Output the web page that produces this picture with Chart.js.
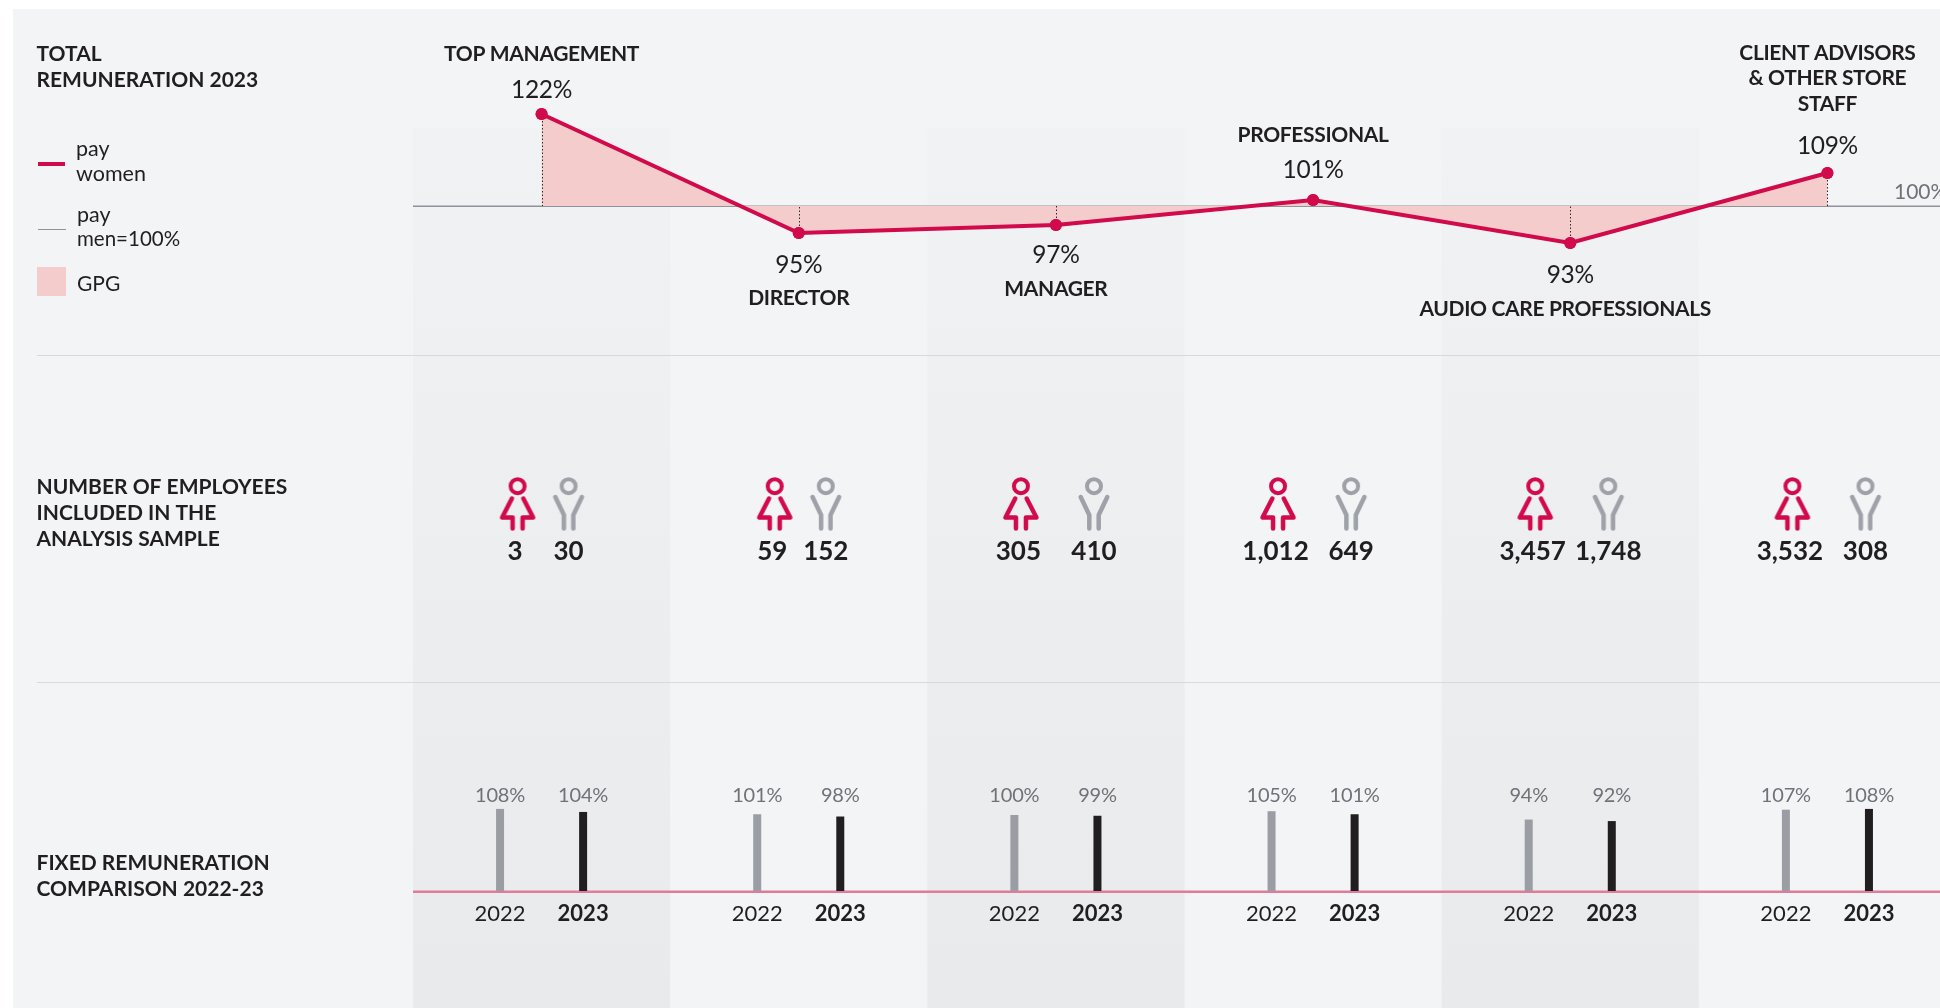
<!DOCTYPE html>
<html><head><meta charset="utf-8">
<style>html,body{margin:0;padding:0;background:#fff;overflow:hidden;width:1940px;height:1008px}canvas{position:absolute;left:0;top:0}</style>
<script src="https://cdn.jsdelivr.net/npm/chart.js@4/dist/chart.umd.js"></script>
</head><body><canvas id="c" width="1956" height="1008"></canvas>
<script>
// ---- data ----
const categories = ['TOP MANAGEMENT','DIRECTOR','MANAGER','PROFESSIONAL','AUDIO CARE PROFESSIONALS','CLIENT ADVISORS & OTHER STORE STAFF'];
const payWomen2023 = [122,95,97,101,93,109];
const womenCounts = [3,59,305,1012,3457,3532];
const menCounts = [30,152,410,649,1748,308];
const fixed2022 = [108,101,100,105,94,107];
const fixed2023 = [104,98,99,101,92,108];
const years = ['2022','2023'];
const payMen = 100;

// ---- style / layout ----
const RED='#d10a4b', GREY='#9ea1a7', INK='#211e1f', MUTE='#6f7278', AREA='#f4cccb';
const FF='Lato, sans-serif';
const nameLines = [['TOP MANAGEMENT'],['DIRECTOR'],['MANAGER'],['PROFESSIONAL'],['AUDIO CARE PROFESSIONALS'],['CLIENT ADVISORS','& OTHER STORE','STAFF']];
const nameY = [[53],[297],[288],[134],[308],[52,77,103]];
const nameDx = [0,0,0,0,-5,0];
const pctDy = [-25,30.5,28.5,-31,31,-28];
const iconGap = [25.5,25.5,36.5,36.5,36.5,36.5];

// The reference's line panel is not drawn to a uniform scale, so its axis is read as stops (value → pixel).
const lineStops = [[93,243],[95,233],[97,225],[100,206],[101,200],[109,173],[122,114]];
class StopScale extends Chart.LinearScale {
  getPixelForValue(v){
    const s=lineStops;
    let i=0; while(i<s.length-2 && v>s[i+1][0]) i++;
    return s[i][1]+(v-s[i][0])*(s[i+1][1]-s[i][1])/(s[i+1][0]-s[i][0]);
  }
}
StopScale.id='stops'; StopScale.defaults=Chart.LinearScale.defaults;
Chart.register(StopScale);

function icon(kind,color){
  const c=document.createElement('canvas'); c.width=44; c.height=60;
  const g=c.getContext('2d'); g.translate(22,3.5);
  g.strokeStyle=color; g.lineWidth=4; g.lineCap='round'; g.lineJoin='round';
  g.beginPath(); g.arc(0,8.7,7,0,Math.PI*2); g.stroke();
  g.lineWidth=4.5;
  [-1,1].forEach(d=>{ g.beginPath();
    if(kind==='w'){ g.moveTo(d*5.7,21); g.lineTo(d*15.5,40); g.lineTo(d*5,40); g.lineTo(d*5,51);}
    else { g.moveTo(d*13.3,19.5); g.lineTo(d*4.7,37.5); g.lineTo(d*4.7,51);}
    g.stroke(); });
  return c;
}
const byCategory = vals => vals.map((v,i)=>({x:i,y:v}));
const iconPoints = sign => categories.map((_,i)=>({x:i+(sign*iconGap[i]+1.5)/257,y:0}));

function T(ctx,s,x,y,font,color,align,ls){
  ctx.font=font; ctx.fillStyle=color; ctx.textAlign=align||'center'; ctx.textBaseline='middle';
  ctx.letterSpacing=(ls||0)+'px'; ctx.fillText(s,x,y+1.5); ctx.letterSpacing='0px';
}
const BOLD='700 21px '+FF, LIGHT='400 ';

const paint = {
  id:'paint',
  beforeDatasetsDraw(chart){
    const {ctx,scales:{x,yLine,yBar},chartArea:a}=chart;
    const half=(x.getPixelForValue(1)-x.getPixelForValue(0))/2;
    ctx.save();
    ctx.fillStyle='#f3f4f6'; ctx.fillRect(13,9,1943,999);
    const grad=ctx.createLinearGradient(0,128,0,1008);
    grad.addColorStop(0,'#f1f2f4'); grad.addColorStop(1,'#e9eaec');
    ctx.fillStyle=grad;
    [0,2,4].forEach(i=>ctx.fillRect(x.getPixelForValue(i)-half,128,half*2,880));
    ctx.fillStyle='#d8d9dc';
    ctx.fillRect(37,355,1919,1); ctx.fillRect(37,682,1919,1);
    const b=yLine.getPixelForValue(payMen);
    ctx.fillStyle='#8f9298'; ctx.fillRect(a.left,b-0.5,a.right-a.left,1.5);
    ctx.fillStyle='#e07c9a'; ctx.fillRect(a.left,yBar.getPixelForValue(0)-0.5,a.right-a.left,2.5);
    ctx.fillStyle=RED; ctx.fillRect(38,162,27,4);
    ctx.fillStyle='#8f9298'; ctx.fillRect(38,229,28,1);
    ctx.fillStyle=AREA; ctx.fillRect(37,267,29,29);
    ctx.restore();
  },
  afterDatasetsDraw(chart){
    const {ctx,scales:{yLine}}=chart;
    ctx.save();
    const line=chart.getDatasetMeta(2).data;
    const b=yLine.getPixelForValue(payMen);
    ctx.strokeStyle='#2b2b2b'; ctx.lineWidth=1; ctx.setLineDash([1.5,2]);
    line.forEach(p=>{ctx.beginPath();ctx.moveTo(Math.round(p.x)+.5,p.y);ctx.lineTo(Math.round(p.x)+.5,b);ctx.stroke();});
    ctx.setLineDash([]);
    ctx.fillStyle=RED; line.forEach(p=>{ctx.beginPath();ctx.arc(p.x,p.y,6,0,Math.PI*2);ctx.fill();});
    [['TOTAL',53],['REMUNERATION 2023',78.5],['NUMBER OF EMPLOYEES',486],['INCLUDED IN THE',511.5],['ANALYSIS SAMPLE',537.5],['FIXED REMUNERATION',862],['COMPARISON 2022-23',888]]
      .forEach(r=>T(ctx,r[0],36.5,r[1],BOLD,INK,'left',0));
    [['pay',76,147.5,21.5],['women',76,172.5,21.5],['pay',77,213.5,21.5],['men=100%',77,237.5,20.5],['GPG',77,283,21]]
      .forEach(r=>T(ctx,r[0],r[1],r[2],LIGHT+r[3]+'px '+FF,INK,'left',0));
    line.forEach((p,i)=>{
      T(ctx,payWomen2023[i]+'%',p.x,p.y+pctDy[i],LIGHT+'24.5px '+FF,INK,'center',-0.3);
      nameLines[i].forEach((s,j)=>T(ctx,s,p.x+nameDx[i],nameY[i][j],BOLD,INK,'center',-0.35));
    });
    T(ctx,payMen+'%',1894,191,'400 21px '+FF,MUTE,'left',0);
    const wm=chart.getDatasetMeta(3).data, mm=chart.getDatasetMeta(4).data;
    categories.forEach((_,i)=>{
      T(ctx,womenCounts[i].toLocaleString('en-US'),wm[i].x-2.5,550.5,'700 26px '+FF,INK,'center',0);
      T(ctx,menCounts[i].toLocaleString('en-US'),mm[i].x,550.5,'700 26px '+FF,INK,'center',0);
    });
    [[0,fixed2022,'400 22px '],[1,fixed2023,'700 22px ']].forEach(([d,vals,f])=>{
      chart.getDatasetMeta(d).data.forEach((el,i)=>{
        T(ctx,vals[i]+'%',el.x,794,'400 20px '+FF,MUTE,'center',-0.2);
        T(ctx,years[d],el.x,912.5,f+FF,INK,'center',0);
      });
    });
    ctx.restore();
  }
};

new Chart(document.getElementById('c'),{
  data:{
    labels:categories,
    datasets:[
      {type:'bar',label:years[0],data:byCategory(fixed2022),yAxisID:'yBar',xAxisID:'x',backgroundColor:'#9a9da3',categoryPercentage:0.646,barPercentage:8/83,order:2},
      {type:'bar',label:years[1],data:byCategory(fixed2023),yAxisID:'yBar',xAxisID:'x',backgroundColor:'#211e1f',categoryPercentage:0.646,barPercentage:8/83,order:2},
      {type:'line',label:'pay women',data:byCategory(payWomen2023),yAxisID:'yLine',xAxisID:'x',borderColor:RED,borderWidth:4,backgroundColor:AREA,fill:{value:payMen},tension:0,pointRadius:6,pointBackgroundColor:RED,pointBorderWidth:0,clip:false,order:1},
      {type:'scatter',label:'women',data:iconPoints(-1),yAxisID:'yIcon',xAxisID:'x',pointStyle:icon('w',RED),pointRadius:20,showLine:false,order:0},
      {type:'scatter',label:'men',data:iconPoints(1),yAxisID:'yIcon',xAxisID:'x',pointStyle:icon('m',GREY),pointRadius:20,showLine:false,order:0}
    ]
  },
  options:{
    responsive:false,animation:false,events:[],
    layout:{autoPadding:false,padding:{left:413,right:0,top:0,bottom:0}},
    plugins:{legend:{display:false},tooltip:{enabled:false}},
    scales:{
      x:{type:'linear',display:false,min:-0.5,max:5.5,offset:false,ticks:{stepSize:1,includeBounds:false},grid:{display:false}},
      yLine:{type:'stops',display:false,min:60,max:140,grid:{display:false}},
      yBar:{type:'linear',display:false,min:-117/0.76,max:891/0.76,grid:{display:false}},
      yIcon:{type:'linear',display:false,min:-1,max:1,grid:{display:false}}
    }
  },
  plugins:[paint]
});
</script></body></html>
